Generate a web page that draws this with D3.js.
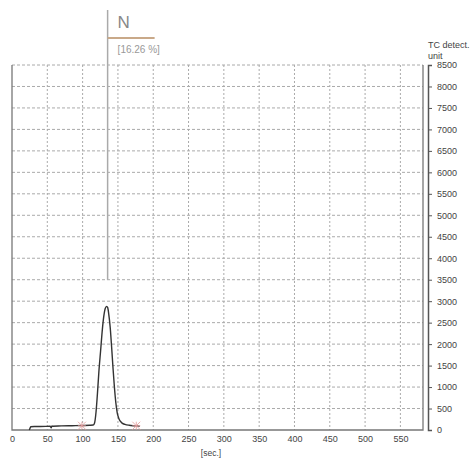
<!DOCTYPE html>
<html>
<head>
<meta charset="utf-8">
<script src="https://cdn.jsdelivr.net/npm/d3@7"></script>
<style>
  body { margin: 0; background: #fff; }
  svg { display: block; font-family: "Liberation Sans", Arial, sans-serif; }
</style>
</head>
<body>
<svg id="drawing_region"></svg>
<script>
// detector trace (seconds, TC detect. units)
const traceTime  = [24.5, 25.5, 26.5, 32, 40, 48, 54, 55.5, 56.5, 58, 70, 85, 100, 110, 115, 117, 119, 121, 123, 125.5, 128, 130, 132, 134, 135.5, 137, 139, 141, 143, 145, 147, 149, 151, 153, 156, 160, 166, 172, 177, 181];
const traceValue = [0, 40, 75, 80, 82, 85, 86, 50, 95, 88, 95, 100, 105, 110, 115, 170, 420, 850, 1350, 1850, 2350, 2650, 2830, 2880, 2850, 2700, 2400, 1950, 1450, 1000, 640, 400, 280, 210, 160, 130, 110, 100, 95, 90];

// integration markers (seconds)
const markerTime = [99, 176];

// element peak marker
const peakTime = 135.4;
const peakLabel = "N";
const peakPercent = "[16.26 %]";

const xTicks = d3.range(0, 551, 50);
const yTicks = d3.range(0, 8501, 500);

const config = {
    width: 472,
    height: 460,
    left: 12,
    right: 423,
    top: 65,
    bottom: 430
};

const svg = d3.select('#drawing_region')
    .attr('width', config.width)
    .attr('height', config.height);

const xscale = d3.scaleLinear()
    .domain([0, 582])
    .range([config.left, config.right]);

const yscale = d3.scaleLinear()
    .domain([0, 8500])
    .range([config.bottom, config.top]);

// grid
svg.append('g')
    .selectAll('line')
    .data(yTicks.filter(d => d > 0))
    .join('line')
    .attr('x1', config.left)
    .attr('x2', config.right)
    .attr('y1', d => yscale(d))
    .attr('y2', d => yscale(d))
    .attr('stroke', '#aaa')
    .attr('stroke-width', 1)
    .attr('stroke-dasharray', '3,2');

svg.append('g')
    .selectAll('line')
    .data(xTicks.filter(d => d > 0))
    .join('line')
    .attr('x1', d => xscale(d))
    .attr('x2', d => xscale(d))
    .attr('y1', config.top)
    .attr('y2', config.bottom)
    .attr('stroke', '#aaa')
    .attr('stroke-width', 1)
    .attr('stroke-dasharray', '2,2');

// frame (left, bottom, right solid)
svg.append('path')
    .attr('d', `M${config.left},${config.top}V${config.bottom}H${config.right}V${config.top}`)
    .attr('fill', 'none')
    .attr('stroke', '#777')
    .attr('stroke-width', 1.3);

// right axis
const yaxis = d3.axisRight(yscale)
    .tickValues(yTicks)
    .tickFormat(d3.format('d'))
    .tickSize(4)
    .tickPadding(5);

const yg = svg.append('g')
    .attr('transform', `translate(${config.right + 5},0)`)
    .call(yaxis);
yg.select('.domain').attr('stroke', '#555').attr('stroke-width', 1.5);
yg.selectAll('.tick line').attr('stroke', '#555');
yg.selectAll('.tick text')
    .attr('fill', '#444')
    .style('font-size', '9px')
    .style('font-family', '"Liberation Sans", Arial, sans-serif');

// bottom axis (labels only)
const xaxis = d3.axisBottom(xscale)
    .tickValues(xTicks)
    .tickFormat(d3.format('d'))
    .tickSize(0)
    .tickPadding(6);

const xg = svg.append('g')
    .attr('transform', `translate(0,${config.bottom})`)
    .call(xaxis);
xg.select('.domain').remove();
xg.selectAll('.tick text')
    .attr('fill', '#444')
    .style('font-size', '9px')
    .style('font-family', '"Liberation Sans", Arial, sans-serif');

// axis titles
svg.append('text')
    .attr('x', 211)
    .attr('y', 456)
    .attr('text-anchor', 'middle')
    .attr('fill', '#444')
    .style('font-size', '8.5px')
    .text('[sec.]');

svg.append('text')
    .attr('x', 428)
    .attr('y', 48)
    .attr('fill', '#444')
    .style('font-size', '9px')
    .text('TC detect.');

svg.append('text')
    .attr('x', 428)
    .attr('y', 59)
    .attr('fill', '#444')
    .style('font-size', '9px')
    .text('unit');

// peak marker
svg.append('line')
    .attr('x1', xscale(peakTime))
    .attr('x2', xscale(peakTime))
    .attr('y1', 10)
    .attr('y2', yscale(3500))
    .attr('stroke', '#aaa')
    .attr('stroke-width', 1.5);

svg.append('line')
    .attr('x1', xscale(peakTime))
    .attr('x2', xscale(peakTime) + 47)
    .attr('y1', 38)
    .attr('y2', 38)
    .attr('stroke', '#c9a989')
    .attr('stroke-width', 1.8);

svg.append('text')
    .attr('x', xscale(peakTime) + 10)
    .attr('y', 28)
    .attr('fill', '#888')
    .style('font-size', '17px')
    .text(peakLabel);

svg.append('text')
    .attr('x', xscale(peakTime) + 10)
    .attr('y', 53)
    .attr('fill', '#999')
    .style('font-size', '10px')
    .text(peakPercent);

// trace
const points = traceTime.map((t, i) => [t, traceValue[i]]);
const line = d3.line()
    .x(d => xscale(d[0]))
    .y(d => yscale(d[1]))
    .curve(d3.curveMonotoneX);

svg.append('path')
    .datum(points)
    .attr('d', line)
    .attr('fill', 'none')
    .attr('stroke', '#333')
    .attr('stroke-width', 1.4);

// integration markers
const markers = svg.append('g')
    .selectAll('g')
    .data(markerTime)
    .join('g')
    .attr('transform', d => `translate(${xscale(d)},${yscale(100)})`);
markers.append('path')
    .attr('d', 'M-4,-4L4,4M-4,4L4,-4M0,-4V4M-4,0H4')
    .attr('stroke', '#e39a9a')
    .attr('stroke-width', 0.8);
</script>
</body>
</html>
